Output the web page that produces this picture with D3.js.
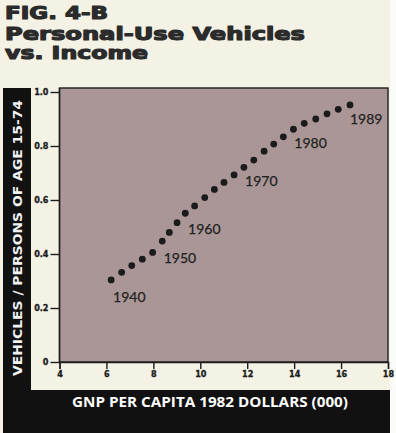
<!DOCTYPE html>
<html>
<head>
<meta charset="utf-8">
<script src="https://cdn.jsdelivr.net/npm/d3@7"></script>
<style>
  html, body { margin: 0; padding: 0; background: #f4f1e5; }
  svg { display: block; }
</style>
</head>
<body>
<div id="chart"></div>
<script>
// GNP per capita (1982 $000) and vehicles per person aged 15-74, 1940-1989
const gnp = [6.20, 6.65, 7.08, 7.53, 7.97, 8.38, 8.68, 9.01, 9.36, 9.76,
             10.19, 10.60, 11.01, 11.44, 11.86, 12.28, 12.72, 13.13, 13.54, 13.97,
             14.43, 14.92, 15.40, 15.88, 16.38];
const vehicles = [0.304, 0.332, 0.357, 0.381, 0.406, 0.448, 0.480, 0.516, 0.551, 0.578,
                  0.609, 0.639, 0.665, 0.693, 0.721, 0.748, 0.781, 0.807, 0.834, 0.862,
                  0.884, 0.900, 0.919, 0.936, 0.952];
// year labels and the point each one sits next to
const labelYears = ['1940', '1950', '1960', '1970', '1980', '1989'];
const labelPoint = [0, 4, 7, 13, 18, 24];

const xTicks = [4, 6, 8, 10, 12, 14, 16, 18];
const yTicks = [0, 0.2, 0.4, 0.6, 0.8, 1.0];
const yTickLabels = ['0', '0.2', '0.4', '0.6', '0.8', '1.0'];

const width = 396;
const height = 433;
const plot = { left: 59.5, right: 388, top: 88, bottom: 362 };

const points = gnp.map((g, i) => ({ x: g, y: vehicles[i] }));

const svg = d3.select('#chart')
    .append('svg')
    .attr('width', width)
    .attr('height', height);

// page strips
svg.append('rect').attr('x', 390).attr('y', 0).attr('width', 6).attr('height', height).attr('fill', '#fbfbf8');
svg.append('rect').attr('x', 3).attr('y', 88).attr('width', 28).attr('height', height - 88).attr('fill', '#111');
svg.append('rect').attr('x', 3).attr('y', 390).attr('width', 387).attr('height', 43).attr('fill', '#111');

// title
const title = ['FIG. 4-B', 'Personal-Use Vehicles', 'vs. Income'];
const titleWidth = [103, 300, 143];
const titleBase = [19, 40, 59];
svg.selectAll('text.title')
    .data(title)
    .join('text')
    .attr('class', 'title')
    .attr('x', 5)
    .attr('y', (d, i) => titleBase[i])
    .attr('textLength', (d, i) => titleWidth[i])
    .attr('lengthAdjust', 'spacingAndGlyphs')
    .style('font-family', 'DejaVu Sans')
    .style('font-weight', 'bold')
    .style('font-size', '17px')
    .attr('fill', '#2b2b2b')
    .attr('stroke', '#2b2b2b')
    .attr('stroke-width', 1.1)
    .attr('stroke-linejoin', 'round')
    .text((d) => d);

const xScale = d3.scaleLinear().domain([4, 18]).range([plot.left, plot.right]);
const yScale = d3.scaleLinear().domain([0, 1]).range([plot.bottom, 92]);

// plot area
svg.append('rect')
    .attr('x', plot.left)
    .attr('y', plot.top)
    .attr('width', plot.right - plot.left)
    .attr('height', plot.bottom - plot.top)
    .attr('fill', '#aa9696')
    .attr('stroke', '#1e1e1e')
    .attr('stroke-width', 1.4);

// axes
const xAxis = d3.axisBottom(xScale)
    .tickValues(xTicks)
    .tickSize(7)
    .tickPadding(2)
    .tickFormat((d) => d);
const yAxis = d3.axisLeft(yScale)
    .tickValues(yTicks)
    .tickSize(9)
    .tickPadding(2)
    .tickFormat((d, i) => yTickLabels[i]);

const gx = svg.append('g')
    .attr('transform', `translate(0, ${plot.bottom})`)
    .call(xAxis);
const gy = svg.append('g')
    .attr('transform', `translate(${plot.left}, 0)`)
    .call(yAxis);

[gx, gy].forEach((g) => {
    g.select('.domain').attr('stroke', '#1e1e1e').attr('stroke-width', 1.4);
    g.selectAll('.tick line').attr('stroke', '#1e1e1e').attr('stroke-width', 1.4);
    g.selectAll('.tick text')
        .attr('fill', '#1a1a1a')
        .attr('stroke', '#1a1a1a')
        .attr('stroke-width', 0.3)
        .style('font-family', 'DejaVu Sans Condensed, DejaVu Sans')
        .style('font-weight', 'bold')
        .style('font-size', '9px');
});
gy.select('.domain').attr('d', `M0,${plot.top}V${plot.bottom}`);

// dots
svg.append('g')
    .selectAll('circle')
    .data(points)
    .join('circle')
    .attr('cx', (d) => xScale(d.x))
    .attr('cy', (d) => yScale(d.y))
    .attr('r', 3.4)
    .attr('fill', '#1b1b1b');

// year labels
svg.append('g')
    .selectAll('text')
    .data(labelYears)
    .join('text')
    .attr('x', (d, i) => xScale(points[labelPoint[i]].x) + (i === 0 ? 2 : i === 5 ? 0 : 11))
    .attr('y', (d, i) => yScale(points[labelPoint[i]].y) + (i === 0 ? 22 : i === 5 ? 19 : 11))
    .style('font-family', 'Lato, Open Sans')
    .style('font-size', '14px')
    .attr('fill', '#222')
    .attr('stroke', '#222')
    .attr('stroke-width', 0.25)
    .text((d) => d);

// axis titles
svg.append('text')
    .attr('transform', 'translate(22, 238) rotate(-90)')
    .attr('text-anchor', 'middle')
    .attr('textLength', 276)
    .attr('lengthAdjust', 'spacingAndGlyphs')
    .style('font-family', 'DejaVu Sans Condensed, DejaVu Sans')
    .style('font-weight', 'bold')
    .style('font-size', '11.5px')
    .attr('fill', '#f2f2f2')
    .text('VEHICLES / PERSONS OF AGE 15-74');

svg.append('text')
    .attr('x', 72)
    .attr('y', 407)
    .attr('textLength', 276)
    .attr('lengthAdjust', 'spacingAndGlyphs')
    .style('font-family', 'Open Sans')
    .style('font-weight', 'bold')
    .style('font-size', '15px')
    .attr('fill', '#ffffff')
    .text('GNP PER CAPITA 1982 DOLLARS (000)');
</script>
</body>
</html>
